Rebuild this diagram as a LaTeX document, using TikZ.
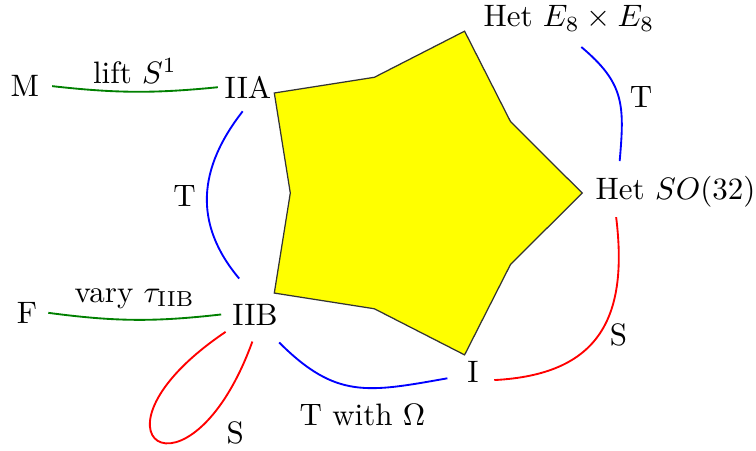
\documentclass[tikz,border=0pt]{standalone}
\usepackage{amsmath}
\usepackage{tikz}
\usetikzlibrary{positioning}
\definecolor{starfill}{RGB}{255,255,0}
\tikzset{theory/.style={inner sep=2pt,anchor=base},lbl/.style={text=black},tdual/.style={blue,semithick},sdual/.style={red,semithick},geo/.style={green!50!black,semithick}}

\begin{document}
\begin{tikzpicture}[star/.style={draw=black!80,fill=starfill,line width=.4pt}]
\useasboundingbox (-4.672,-2.914) rectangle (3.901,2.189);
\draw[star] (0:1.93)--(36:1.38)--(72:1.93)--(108:1.38)--(144:1.93)--(180:1.38)--(216:1.93)--(252:1.38)--(288:1.93)--(324:1.38)--cycle;
\node[theory] (M) at (-4.389,1.092) {M};
\node[theory] (IIA) at (-1.860,1.074) {IIA};
\node[theory] (F) at (-4.366,-1.478) {F};
\node[theory] (IIB) at (-1.780,-1.497) {IIB};
\node[theory] (I) at (0.692,-2.151) {I};
\node[theory] (E8) at (1.780,1.886) {Het $E_8\times E_8$};
\node[theory,anchor=base west] (SO32) at (2.005,-0.068) {Het $SO(32)$};
\draw[geo] ([xshift=0.07cm]M.east) to[bend right=6] node[lbl,above=-1pt]{lift $S^1$} (IIA.west);
\draw[geo] ([xshift=0.05cm]F.east) to[bend right=7] node[lbl,above]{vary $\tau_{\mathrm{IIB}}$} ([xshift=-0.05cm]IIB.west);
\draw[tdual] ([shift={(-0.06,-0.07)}]IIA.south) to[out=232,in=130,looseness=1.1] node[lbl,left]{T} ([shift={(-0.18,0.21)}]IIB.north);
\draw[tdual] ([shift={(0.14,-0.10)}]E8.south) to[out=-40,in=85,looseness=1.2] node[lbl,right]{T} ([shift={(0.35,0.09)}]SO32.north west);
\draw[sdual] ([shift={(0.31,-0.04)}]SO32.south west) to[out=-83,in=3,looseness=1.3] node[lbl,right]{S} ([shift={(0.10,-0.09)}]I.east);
\draw[tdual] ([shift={(-0.06,-0.12)}]IIB.south east) to[out=-45,in=190,looseness=1.2] node[lbl,below=1.5pt,pos=.55]{T with $\Omega$} ([shift={(-0.15,-0.07)}]I.west);
\draw[sdual] (IIB.south west) to[out=214,in=250,distance=2.1cm] node[lbl,pos=.72,right=7pt]{S} ([shift={(-0.03,-0.11)}]IIB.south);
\end{tikzpicture}
\end{document}
